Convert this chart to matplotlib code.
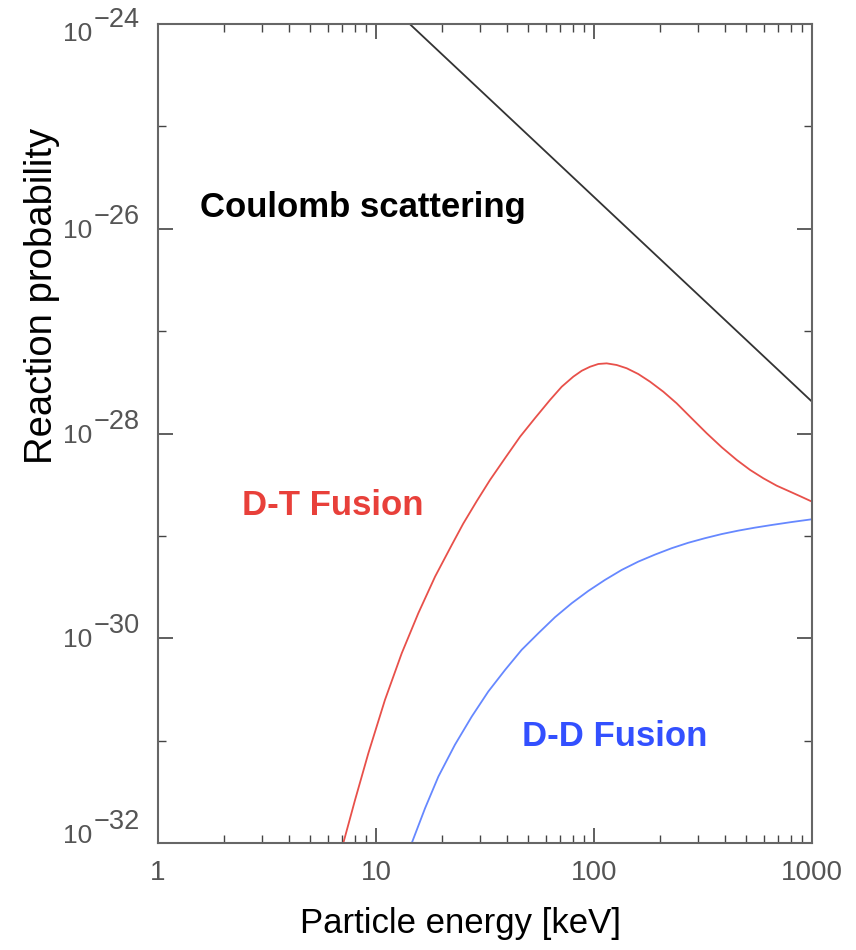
import numpy as np
import matplotlib
matplotlib.use("Agg")
import matplotlib.pyplot as plt
import matplotlib.transforms as mtransforms
from matplotlib.ticker import FixedLocator, NullFormatter, LogLocator, FuncFormatter

plt.rcParams['font.family'] = ['Liberation Sans', 'DejaVu Sans']

# Coulomb scattering ~ E^-2 (energy in keV, probability)
coul_E = [14.3, 1000]
coul_P = [1e-24, 2.05e-28]

# D-T fusion (log10 of energy, log10 of probability)
dt_logE = [0.850, 0.904, 0.965, 1.041, 1.118, 1.194, 1.271, 1.347, 1.400,
           1.462, 1.523, 1.592, 1.661, 1.729, 1.798, 1.852, 1.905, 1.944,
           1.982, 2.020, 2.058, 2.104, 2.150, 2.203, 2.257, 2.318, 2.379,
           2.448, 2.517, 2.586, 2.655, 2.716, 2.777, 2.838, 2.899, 2.950,
           3.000]
dt_logP = [-32.00, -31.578, -31.122, -30.602, -30.146, -29.755, -29.397,
           -29.090, -28.880, -28.660, -28.453, -28.240, -28.030, -27.850,
           -27.672, -27.542, -27.444, -27.386, -27.347, -27.320, -27.314,
           -27.330, -27.362, -27.418, -27.493, -27.591, -27.704, -27.851,
           -27.997, -28.134, -28.258, -28.355, -28.437, -28.509, -28.567,
           -28.616, -28.665]

# D-D fusion
dd_logE = [1.164, 1.225, 1.286, 1.362, 1.439, 1.515, 1.592, 1.668, 1.745,
           1.821, 1.898, 1.974, 2.050, 2.127, 2.203, 2.280, 2.356, 2.432,
           2.509, 2.585, 2.662, 2.738, 2.815, 2.907, 3.000]
dd_logP = [-32.00, -31.660, -31.351, -31.040, -30.765, -30.520, -30.309,
           -30.113, -29.950, -29.794, -29.657, -29.537, -29.430, -29.332,
           -29.251, -29.182, -29.120, -29.067, -29.022, -28.982, -28.948,
           -28.919, -28.893, -28.864, -28.837]

ytick_exps = [-32, -30, -28, -26, -24]
yminor_exps = [-31, -29, -27, -25]
xtick_vals = [1, 10, 100, 1000]

fig = plt.figure(figsize=(8.56, 9.5), dpi=100)
ax = fig.add_axes([0.1846, 0.1126, 0.764, 0.862])

ax.plot(10**np.array(dt_logE), 10**np.array(dt_logP), color='#e8504a', lw=1.3)
ax.plot(10**np.array(dd_logE), 10**np.array(dd_logP), color='#6688ff', lw=1.3)
ax.plot(coul_E, coul_P, color='#333333', lw=1.3)

ax.set_xscale('log')
ax.set_yscale('log')
ax.set_xlim(1, 1000)
ax.set_ylim(1e-32, 1e-24)

ax.yaxis.set_major_locator(FixedLocator([10.0**e for e in ytick_exps]))
ax.yaxis.set_minor_locator(FixedLocator([10.0**e for e in yminor_exps]))
ax.yaxis.set_major_formatter(NullFormatter())
ax.yaxis.set_minor_formatter(NullFormatter())
ax.xaxis.set_major_locator(FixedLocator(xtick_vals))
ax.xaxis.set_minor_locator(LogLocator(base=10.0, subs=np.arange(2, 10), numticks=20))
ax.xaxis.set_major_formatter(FuncFormatter(lambda v, p: '%d' % v))
ax.xaxis.set_minor_formatter(NullFormatter())

ax.tick_params(which='both', direction='in', top=True, right=True,
               color='#444444', labelcolor='#555555', labelsize=20)
ax.tick_params(which='major', length=10.5, width=1.2)
ax.tick_params(which='minor', length=5.5, width=1.0)
ax.tick_params(axis='x', which='major', pad=12)
for s in ax.spines.values():
    s.set_color('#666666')
    s.set_linewidth(1.5)

# y tick labels "10" with a large exponent, drawn by hand
blend = mtransforms.blended_transform_factory(ax.transAxes, ax.transData)
shifts = {-32: -7, -30: 2, -28: 2, -26: 2, -24: 10}
for e in ytick_exps:
    dy = -shifts[e] / 100.0
    t_base = blend + mtransforms.ScaledTranslation(0, dy, fig.dpi_scale_trans)
    t_exp = blend + mtransforms.ScaledTranslation(0, dy + 0.14, fig.dpi_scale_trans)
    ax.text(-0.1453, 10.0**e, '10', transform=t_base, fontsize=19,
            color='#555555', ha='left', va='center')
    ax.text(-0.0979, 10.0**e, '\u2212%d' % (-e), transform=t_exp, fontsize=19.5,
            color='#555555', ha='left', va='center')

ax.set_xlabel('Particle energy [keV]', fontsize=25)
ax.xaxis.set_label_coords(0.462, -0.078)
ax.set_ylabel('Reaction probability', fontsize=27.5)
ax.yaxis.set_label_coords(-0.150, 0.668)

ax.text(1.56, 1.6e-26, 'Coulomb scattering', fontsize=25, fontweight='bold',
        color='black', va='center', ha='left')
ax.text(2.43, 2.0e-29, 'D-T Fusion', fontsize=25, fontweight='bold',
        color='#e8403a', va='center', ha='left')
ax.text(46.8, 1.1e-31, 'D-D Fusion', fontsize=25, fontweight='bold',
        color='#3350ff', va='center', ha='left')

fig.savefig('out.png', dpi=100)
